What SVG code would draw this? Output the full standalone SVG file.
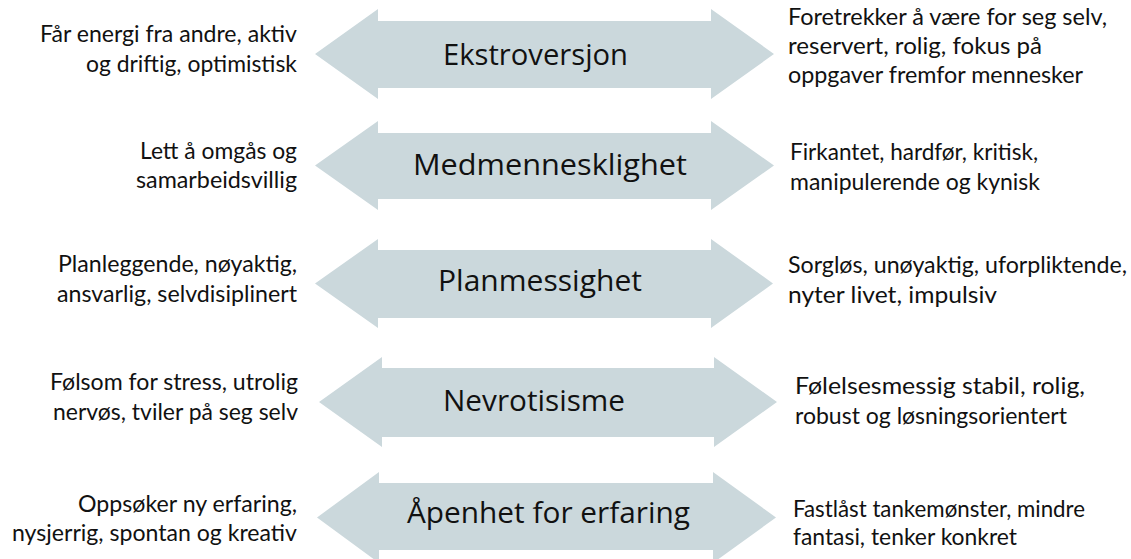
<svg xmlns="http://www.w3.org/2000/svg" width="1131" height="559" viewBox="0 0 1131 559">
<style>
.arrow{fill:#cbd8dc;}
.trait{font-family:"Open Sans","Liberation Sans",sans-serif;font-size:30px;fill:#111;}
.desc{font-family:Lato,"Liberation Sans",sans-serif;font-size:23px;fill:#111;}
</style>
<rect width="1131" height="559" fill="#fff"/>
<g id="connectors">
  <path class="arrow" d="M315,54 L378,9 L378,21 L711,21 L711,9 L774,54 L711,99 L711,88 L378,88 L378,99 Z"/>
  <path class="arrow" d="M315,165.5 L378,121 L378,133 L711,133 L711,121 L774,165.5 L711,210 L711,199 L378,199 L378,210 Z"/>
  <path class="arrow" d="M315,283.5 L378,239 L378,250 L711,250 L711,239 L773,283.5 L711,328 L711,318 L378,318 L378,328 Z"/>
  <path class="arrow" d="M319,402 L382,357 L382,368 L714,368 L714,357 L777,402 L714,447 L714,437 L382,437 L382,447 Z"/>
  <path class="arrow" d="M317,517.5 L379,472 L379,483 L713,483 L713,472 L776,517.5 L713,563 L713,550 L379,550 L379,563 Z"/>
</g>
<g id="node-ekstroversjon">
  <text class="trait" x="443" y="65" textLength="185" lengthAdjust="spacingAndGlyphs">Ekstroversjon</text>
  <text class="desc" x="40" y="42" textLength="257" lengthAdjust="spacingAndGlyphs">Får energi fra andre, aktiv</text>
  <text class="desc" x="86" y="72" textLength="211" lengthAdjust="spacingAndGlyphs">og driftig, optimistisk</text>
  <text class="desc" x="788" y="25" textLength="319" lengthAdjust="spacingAndGlyphs">Foretrekker å være for seg selv,</text>
  <text class="desc" x="788" y="54" textLength="254" lengthAdjust="spacingAndGlyphs">reservert, rolig, fokus på</text>
  <text class="desc" x="788" y="83" textLength="295" lengthAdjust="spacingAndGlyphs">oppgaver fremfor mennesker</text>
</g>
<g id="node-medmennesklighet">
  <text class="trait" x="413" y="175" textLength="274" lengthAdjust="spacingAndGlyphs">Medmennesklighet</text>
  <text class="desc" x="140" y="159" textLength="157" lengthAdjust="spacingAndGlyphs">Lett å omgås og</text>
  <text class="desc" x="136" y="188" textLength="161" lengthAdjust="spacingAndGlyphs">samarbeidsvillig</text>
  <text class="desc" x="790" y="160" textLength="248" lengthAdjust="spacingAndGlyphs">Firkantet, hardfør, kritisk,</text>
  <text class="desc" x="790" y="190" textLength="250" lengthAdjust="spacingAndGlyphs">manipulerende og kynisk</text>
</g>
<g id="node-planmessighet">
  <text class="trait" x="438" y="291" textLength="204" lengthAdjust="spacingAndGlyphs">Planmessighet</text>
  <text class="desc" x="58" y="272" textLength="239" lengthAdjust="spacingAndGlyphs">Planleggende, nøyaktig,</text>
  <text class="desc" x="57" y="302" textLength="240" lengthAdjust="spacingAndGlyphs">ansvarlig, selvdisiplinert</text>
  <text class="desc" x="788" y="273" textLength="339" lengthAdjust="spacingAndGlyphs">Sorgløs, unøyaktig, uforpliktende,</text>
  <text class="desc" x="788" y="303" textLength="209" lengthAdjust="spacingAndGlyphs">nyter livet, impulsiv</text>
</g>
<g id="node-nevrotisisme">
  <text class="trait" x="443" y="411" textLength="182" lengthAdjust="spacingAndGlyphs">Nevrotisisme</text>
  <text class="desc" x="50" y="390" textLength="248" lengthAdjust="spacingAndGlyphs">Følsom for stress, utrolig</text>
  <text class="desc" x="53" y="420" textLength="245" lengthAdjust="spacingAndGlyphs">nervøs, tviler på seg selv</text>
  <text class="desc" x="795" y="394" textLength="290" lengthAdjust="spacingAndGlyphs">Følelsesmessig stabil, rolig,</text>
  <text class="desc" x="795" y="424" textLength="272" lengthAdjust="spacingAndGlyphs">robust og løsningsorientert</text>
</g>
<g id="node-apenhet">
  <text class="trait" x="407" y="523" textLength="283" lengthAdjust="spacingAndGlyphs">Åpenhet for erfaring</text>
  <text class="desc" x="78" y="512" textLength="219" lengthAdjust="spacingAndGlyphs">Oppsøker ny erfaring,</text>
  <text class="desc" x="12" y="541" textLength="285" lengthAdjust="spacingAndGlyphs">nysjerrig, spontan og kreativ</text>
  <text class="desc" x="793" y="517" textLength="292" lengthAdjust="spacingAndGlyphs">Fastlåst tankemønster, mindre</text>
  <text class="desc" x="793" y="545" textLength="224" lengthAdjust="spacingAndGlyphs">fantasi, tenker konkret</text>
</g>
</svg>
